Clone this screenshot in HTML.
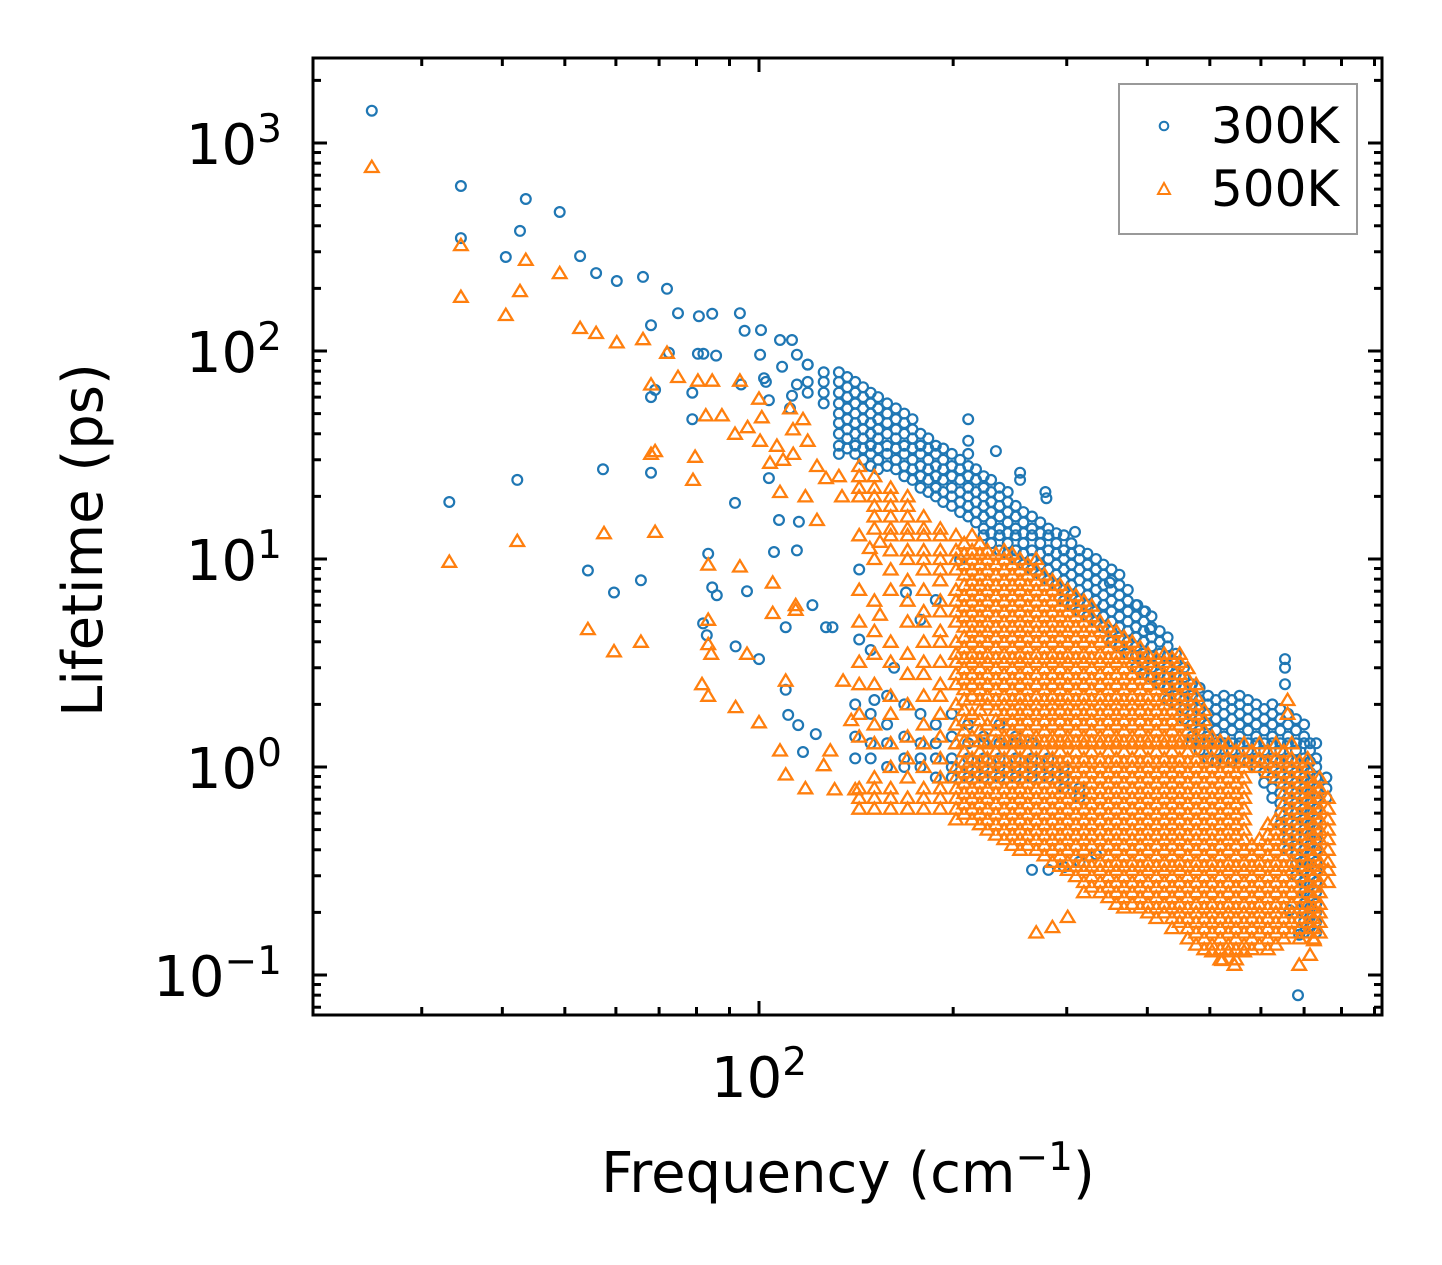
<!DOCTYPE html>
<html>
<head>
<meta charset="utf-8">
<style>
  html,body{margin:0;padding:0;background:#fff;}
  svg{display:block;}
  text{font-family:"DejaVu Sans","Liberation Sans",sans-serif;fill:#000;}
</style>
</head>
<body>
<svg id="chart" xmlns="http://www.w3.org/2000/svg" width="1442" height="1265" viewBox="0 0 1442 1265">
  <rect x="0" y="0" width="1442" height="1265" fill="#fff"/>
  <g id="marks300"></g>
  <g id="marks500"></g>
  <g id="axes"></g>
  <text x="102" y="540" font-size="56" text-anchor="middle" transform="rotate(-90 102 540)">Lifetime (ps)</text>
  <text x="848" y="1192" font-size="56" text-anchor="middle">Frequency (cm<tspan font-size="39" dy="-22">−1</tspan><tspan dy="22">)</tspan></text>
  <g id="legend">
    <rect x="1119" y="84" width="238" height="150" fill="#fff" stroke="#999" stroke-width="2"/>
    <circle cx="1164" cy="126" r="4.3" fill="none" stroke="#1f77b4" stroke-width="2"/>
    <text x="1211" y="143" font-size="50">300K</text>
    <path d="M1158,194 L1170,194 L1164,183 Z" fill="none" stroke="#ff7f0e" stroke-width="2"/>
    <text x="1211" y="206" font-size="50">500K</text>
  </g>
</svg>
<script>
// ---------- data: 300K (blue circles) ----------
const sparseFreq300 = [25.1,34.5,34.5,33.1,43.5,42.6,42.2,40.5,49.1,52.8,55.9,60.2,66.1,72.0,68.0,69,68,68,74.9,80.7,84.6,93.4,95,100.7,80.4,72.5,82,85.8,78.8,78.8,57.3,54.3,59.6,65.6,91.8,83.4,84.6,86,81.9,83,95.8,92,100,93.8,101.8,100.4,107.8,112.5,114.5,108.6,119,114.5,112.5,102.5,103.6,111.7,103.6,107.4,115.3,105.5,114.5,121,110,127,130,110,111,117,115,122.5,143,169,143,149,162,151,178,188,205,211,211,211,233,254,254,279,278,309,350,386,397,404,654,654,654,685,688,665];
const sparseTau300 = [1430,621,349,18.8,538,378,24,283,466,286,237,217,227,199,133,65,60,26,152,147,151,152,125,126,97,98,97,95,63,47,27,8.8,6.9,7.9,18.6,10.6,7.3,6.7,4.9,4.3,7.0,3.8,3.3,69,74,96,113,113,96,84,86,69,61,71,58,53,24.5,15.4,15.1,10.8,11,6.0,4.7,4.7,4.7,2.35,1.78,1.18,1.59,1.44,8.9,6.9,4.1,3.65,3.0,2.1,5.1,6.35,9.9,47,37,32,33,24,26,19.6,21,13.5,7.7,6.0,5.6,4.6,3.3,3.0,2.5,0.080,0.156,0.205];
const colFreq300 = [119,126,133,141,149,158,168,178,188,199,211,223,236,250,265,281,297,314,333,352,373,395,418,443,469,497,526,556,590,625,661,700,731,758];
const colTau300 = [
 [63,71,86],
 [56,63,71,79],
 [32,35,40,45,50,56,63,71,79],
 [1.1,1.4,2,32,35,40,45,50,56,63,71],
 [1.1,1.3,1.8,28,32,35,40,45,50,56,63],
 [1,1.3,1.6,2.2,28,32,35,40,45,50,56],
 [1,1.1,1.4,2,25,28,32,35,40,45,50],
 [1,1.1,1.3,1.8,22,25,28,32,35,40],
 [0.89,1.1,1.3,1.6,20,22,25,28,32,35],
 [0.89,1,1.1,1.4,1.8,18,20,22,25,28,32],
 [0.89,1,1.1,1.3,1.6,16,18,20,22,25,28],
 [0.89,1,1.1,1.3,1.4,13,14,16,18,20,22,25],
 [0.89,1,1.1,1.3,1.6,11,13,14,16,18,20,22],
 [0.89,1,1.1,1.3,1.4,10,11,13,14,16,18],
 [0.32,0.89,1,1.1,1.3,8.9,10,11,13,14,16],
 [0.32,0.89,1,1.1,7.9,8.9,10,11,13,14],
 [0.33,0.79,0.89,1,6.3,7.1,7.9,8.9,10,11,13],
 [0.35,0.71,0.79,5.6,6.3,7.1,7.9,8.9,10,11],
 [0.38,5,5.6,6.3,7.1,7.9,8.9,10],
 [4,4.5,5,5.6,6.3,7.1,7.9,8.9],
 [3.5,4,4.5,5,5.6,6.3,7.1],
 [2.8,3.2,3.5,4,4.5,5,5.6],
 [2.5,2.8,3.2,3.5,4,4.5],
 [2,2.2,2.5,2.8,3.2,3.5],
 [1.3,1.4,1.6,1.8,2,2.2,2.5],
 [1.1,1.3,1.4,1.6,1.8,2,2.2],
 [1.1,1.3,1.4,1.6,1.8,2,2.2],
 [1.1,1.3,1.4,1.6,1.8,2,2.2],
 [1,1.1,1.3,1.4,1.6,1.8,2],
 [0.71,0.79,0.89,1,1.1,1.3,1.4,1.6,1.8,2],
 [0.4,0.45,0.5,0.56,0.63,0.71,0.79,0.89,1,1.1,1.3,1.4,1.6,1.8],
 [0.16,0.18,0.2,0.22,0.25,0.28,0.32,0.35,0.4,0.45,0.5,0.56,0.63,0.71,0.79,0.89,1,1.1,1.3,1.4,1.6],
 [0.16,0.18,0.2,0.22,0.25,0.28,0.32,0.35,0.4,0.45,0.5,0.56,0.63,0.71,0.79,0.89,1,1.1,1.3],
 [0.71,0.79,0.89]
];
const midFreq300 = [137,145,153,163,173,183,193,205,217,229,243,257,273,289,305,323,342,362,384,406,430,456,482,511,541,573,607,643,680,715];
const midTau300 = [
 [34,38,42,47,53,60,67,75],
 [30,34,38,42,47,53,60,67],
 [27,30,34,38,42,47,53,60],
 [27,30,34,38,42,47,53],
 [24,27,30,34,38,42,47],
 [21,24,27,30,34,38],
 [18.8,21,24,27,30,34],
 [16.8,18.8,21,24,27,30],
 [15,16.8,18.8,21,24,27],
 [11.9,13.3,15,16.8,18.8,21,24],
 [10.6,11.9,13.3,15,16.8,18.8,21],
 [9.4,10.6,11.9,13.3,15,16.8],
 [8.4,9.4,10.6,11.9,13.3,15],
 [7.5,8.4,9.4,10.6,11.9,13.3],
 [6,6.7,7.5,8.4,9.4,10.6,11.9],
 [5.3,6,6.7,7.5,8.4,9.4,10.6],
 [4.7,5.3,6,6.7,7.5,8.4,9.4],
 [3.8,4.2,4.7,5.3,6,6.7,7.5,8.4],
 [3,3.4,3.8,4.2,4.7,5.3,6],
 [2.7,3,3.4,3.8,4.2,4.7,5.3],
 [2.1,2.4,2.7,3,3.4,3.8,4.2],
 [1.7,1.9,2.1,2.4,2.7,3],
 [1.2,1.3,1.5,1.7,1.9,2.1,2.4],
 [1.06,1.2,1.3,1.5,1.7,1.9,2.1],
 [1.06,1.2,1.3,1.5,1.7,1.9,2.1],
 [1.06,1.2,1.3,1.5,1.7,1.9,2.1],
 [0.84,0.94,1.06,1.2,1.3,1.5,1.7,1.9],
 [0.53,0.6,0.67,0.75,0.84,0.94,1.06,1.2,1.3,1.5,1.7,1.9],
 [0.3,0.34,0.38,0.42,0.47,0.53,0.6,0.67,0.75,0.84,0.94,1.06,1.2,1.3,1.5,1.7],
 [0.17,0.19,0.21,0.24,0.27,0.3,0.34,0.38,0.42,0.47,0.53,0.6,0.67,0.75,0.84,0.94,1.06,1.2,1.3]
];

// ---------- data: 500K (orange triangles) ----------
const sparseFreq500 = [25.1,34.5,34.5,33.1,43.5,42.6,40.5,42.2,49.1,52.8,55.9,60.2,66.1,72,68,69,68,69,57.5,54.3,59.6,65.6,74.9,80.4,84.6,93.4,87.6,82.7,79.6,79,100,101,91.8,96,100.4,106.6,111.7,112.9,117,119,104,109,113,123,107.8,118,133,134.5,123,127,83.4,83.4,83.4,84.3,93.4,105,105,95.8,81.6,83.4,92,100,114,114,110,107.8,110,118,126,129,131,139,141,135,154,148.5,154,688,546,523,715,725,660,660];
const sparseTau500 = [767,323,182,9.7,274,194,149,12.2,237,129,122,110,114,98,69,33,32,13.5,13.3,4.6,3.6,4.0,75,72,72,72,49,49,31,24,59,48,40,43,37,35,53,42,47,37,29,30,32,28,21,20,25,20,15.4,24.5,9.4,5.1,3.9,3.5,9.2,7.7,5.5,3.5,2.5,2.2,1.94,1.64,6.0,5.7,2.6,1.2,0.92,0.79,1.02,1.2,0.78,1.68,0.78,2.6,5.4,11.3,12.1,0.112,0.112,0.118,0.125,0.147,1.8,2.1];
const colFreq500 = [143,151,160,170,180,191,202,214,226,240,254,269,285,301,319,338,358,379,401,425,449,476,504,534,565,597,633,670,709,740,762];
const colTau500 = [
 [0.63,0.71,0.79,1.4,1.8,2.5,3.2,5,7.1,13,20,22,25,28],
 [0.63,0.71,0.79,0.89,1.3,1.6,2.5,3.5,4.5,6.3,10,14,16,18,20,22,25],
 [0.63,0.71,0.79,1,1.3,1.8,2.2,3.2,4,7.1,8.9,11,13,14,16,18,20,22],
 [0.63,0.71,0.89,1.1,1.4,2,2.8,3.5,5,6.3,7.9,10,11,13,14,16,18,20],
 [0.63,0.71,0.79,1,1.3,1.6,2.2,2.8,3.2,4,5,5.6,7.1,8.9,10,11,13,14,16],
 [0.63,0.71,0.79,0.89,1.1,1.4,1.8,2.2,2.5,3.2,4,4.5,5.6,6.3,7.9,8.9,10,11,13,14],
 [0.56,0.63,0.71,0.79,0.89,1,1.3,1.6,2,2.5,2.8,3.2,3.5,4,5,5.6,6.3,7.1,8.9,10,11,13],
 [0.56,0.63,0.71,0.79,0.89,1,1.1,1.4,1.8,2.2,2.5,2.8,3.2,3.5,4,4.5,5,5.6,6.3,7.1,7.9,8.9,10,11,13],
 [0.5,0.56,0.63,0.71,0.79,0.89,1,1.1,1.3,1.6,2,2.2,2.5,2.8,3.2,3.5,4,4.5,5,5.6,6.3,7.1,7.9,8.9,10,11],
 [0.45,0.5,0.56,0.63,0.71,0.79,0.89,1,1.1,1.3,1.4,1.6,1.8,2,2.2,2.5,2.8,3.2,3.5,4,4.5,5,5.6,6.3,7.1,7.9,8.9,10,11],
 [0.4,0.45,0.5,0.56,0.63,0.71,0.79,0.89,1,1.1,1.3,1.4,1.6,1.8,2,2.2,2.5,2.8,3.2,3.5,4,4.5,5,5.6,6.3,7.1,7.9,8.9,10],
 [0.16,0.4,0.45,0.5,0.56,0.63,0.71,0.79,0.89,1,1.1,1.3,1.4,1.6,1.8,2,2.2,2.5,2.8,3.2,3.5,4,4.5,5,5.6,6.3,7.1,7.9,8.9,10],
 [0.17,0.35,0.4,0.45,0.5,0.56,0.63,0.71,0.79,0.89,1,1.1,1.3,1.4,1.6,1.8,2,2.2,2.5,2.8,3.2,3.5,4,4.5,5,5.6,6.3,7.1,7.9],
 [0.19,0.32,0.35,0.4,0.45,0.5,0.56,0.63,0.71,0.79,0.89,1,1.1,1.3,1.4,1.6,1.8,2,2.2,2.5,2.8,3.2,3.5,4,4.5,5,5.6,6.3,7.1],
 [0.25,0.28,0.32,0.35,0.4,0.45,0.5,0.56,0.63,0.71,0.79,0.89,1,1.1,1.3,1.4,1.6,1.8,2,2.2,2.5,2.8,3.2,3.5,4,4.5,5,5.6,6.3],
 [0.25,0.28,0.32,0.35,0.4,0.45,0.5,0.56,0.63,0.71,0.79,0.89,1,1.1,1.3,1.4,1.6,1.8,2,2.2,2.5,2.8,3.2,3.5,4,4.5,5],
 [0.22,0.25,0.28,0.32,0.35,0.4,0.45,0.5,0.56,0.63,0.71,0.79,0.89,1,1.1,1.3,1.4,1.6,1.8,2,2.2,2.5,2.8,3.2,3.5,4,4.5],
 [0.22,0.25,0.28,0.32,0.35,0.4,0.45,0.5,0.56,0.63,0.71,0.79,0.89,1,1.1,1.3,1.4,1.6,1.8,2,2.2,2.5,2.8,3.2,3.5,4],
 [0.2,0.22,0.25,0.28,0.32,0.35,0.4,0.45,0.5,0.56,0.63,0.71,0.79,0.89,1,1.1,1.3,1.4,1.6,1.8,2,2.2,2.5,2.8,3.2,3.5],
 [0.2,0.22,0.25,0.28,0.32,0.35,0.4,0.45,0.5,0.56,0.63,0.71,0.79,0.89,1,1.1,1.3,1.4,1.6,1.8,2,2.2,2.5,2.8,3.2,3.5],
 [0.18,0.2,0.22,0.25,0.28,0.32,0.35,0.4,0.45,0.5,0.56,0.63,0.71,0.79,0.89,1,1.1,1.3,1.4,1.6,1.8,2,2.2,2.5,2.8,3.2,3.5],
 [0.14,0.16,0.18,0.2,0.22,0.25,0.28,0.32,0.35,0.4,0.45,0.5,0.56,0.63,0.71,0.79,0.89,1,1.1,1.3,1.4,1.6,1.8,2,2.2,2.5],
 [0.13,0.14,0.16,0.18,0.2,0.22,0.25,0.28,0.32,0.35,0.4,0.45,0.5,0.56,0.63,0.71,0.79,0.89,1,1.1,1.3,1.4],
 [0.13,0.14,0.16,0.18,0.2,0.22,0.25,0.28,0.32,0.35,0.4,0.45,0.5,0.56,0.63,0.71,0.79,0.89,1,1.1,1.3],
 [0.13,0.14,0.16,0.18,0.2,0.22,0.25,0.28,0.32,0.35,0.4,0.45,0.5,0.56,0.63,0.71,0.79,0.89,1,1.1,1.3],
 [0.14,0.16,0.18,0.2,0.22,0.25,0.28,0.32,0.35,0.4,0.45,1,1.1,1.3],
 [0.14,0.16,0.18,0.2,0.22,0.25,0.28,0.32,0.35,0.4,0.45,0.5,0.56,0.89,1,1.1,1.3],
 [0.16,0.18,0.2,0.22,0.25,0.28,0.32,0.35,0.4,0.45,0.5,0.56,0.63,0.71,0.79,0.89,1,1.1,1.3],
 [0.16,0.18,0.2,0.22,0.25,0.28,0.32,0.35,0.4,0.45,0.5,0.56,0.63,0.71,0.79,0.89,1,1.1],
 [0.16,0.18,0.2,0.22,0.25,0.28,0.32,0.35,0.4,0.45,0.5,0.56,0.63,0.71,0.79,0.89],
 [0.28,0.32,0.35,0.4,0.45,0.5,0.56,0.63,0.71]
];
const midFreq500 = [208,220,233,247,261,277,293,310,328,348,368,390,413,437,462,490,519,549,581,615,651,689,724];
const midTau500 = [
 [0.596,0.668,0.75,0.841,0.944,1.06,1.19,1.33,1.5,1.68,1.88,2.11,2.37,2.66,2.99,3.35,3.76,4.22,4.73,5.31,5.96,6.68,7.5,8.41,9.44,10.6,11.9],
 [0.531,0.596,0.668,0.75,0.841,0.944,1.06,1.19,1.33,1.5,1.68,1.88,2.11,2.37,2.66,2.99,3.35,3.76,4.22,4.73,5.31,5.96,6.68,7.5,8.41,9.44,10.6,11.9],
 [0.473,0.531,0.596,0.668,0.75,0.841,0.944,1.06,1.19,1.33,1.5,1.68,1.88,2.11,2.37,2.66,2.99,3.35,3.76,4.22,4.73,5.31,5.96,6.68,7.5,8.41,9.44,10.6],
 [0.422,0.473,0.531,0.596,0.668,0.75,0.841,0.944,1.06,1.19,1.33,1.5,1.68,1.88,2.11,2.37,2.66,2.99,3.35,3.76,4.22,4.73,5.31,5.96,6.68,7.5,8.41,9.44,10.6],
 [0.422,0.473,0.531,0.596,0.668,0.75,0.841,0.944,1.06,1.19,1.33,1.5,1.68,1.88,2.11,2.37,2.66,2.99,3.35,3.76,4.22,4.73,5.31,5.96,6.68,7.5,8.41,9.44],
 [0.376,0.422,0.473,0.531,0.596,0.668,0.75,0.841,0.944,1.06,1.19,1.33,1.5,1.68,1.88,2.11,2.37,2.66,2.99,3.35,3.76,4.22,4.73,5.31,5.96,6.68,7.5,8.41],
 [0.335,0.376,0.422,0.473,0.531,0.596,0.668,0.75,0.841,0.944,1.06,1.19,1.33,1.5,1.68,1.88,2.11,2.37,2.66,2.99,3.35,3.76,4.22,4.73,5.31,5.96,6.68,7.5],
 [0.299,0.335,0.376,0.422,0.473,0.531,0.596,0.668,0.75,0.841,0.944,1.06,1.19,1.33,1.5,1.68,1.88,2.11,2.37,2.66,2.99,3.35,3.76,4.22,4.73,5.31,5.96,6.68],
 [0.266,0.299,0.335,0.376,0.422,0.473,0.531,0.596,0.668,0.75,0.841,0.944,1.06,1.19,1.33,1.5,1.68,1.88,2.11,2.37,2.66,2.99,3.35,3.76,4.22,4.73,5.31,5.96],
 [0.237,0.266,0.299,0.335,0.376,0.422,0.473,0.531,0.596,0.668,0.75,0.841,0.944,1.06,1.19,1.33,1.5,1.68,1.88,2.11,2.37,2.66,2.99,3.35,3.76,4.22,4.73],
 [0.211,0.237,0.266,0.299,0.335,0.376,0.422,0.473,0.531,0.596,0.668,0.75,0.841,0.944,1.06,1.19,1.33,1.5,1.68,1.88,2.11,2.37,2.66,2.99,3.35,3.76,4.22],
 [0.211,0.237,0.266,0.299,0.335,0.376,0.422,0.473,0.531,0.596,0.668,0.75,0.841,0.944,1.06,1.19,1.33,1.5,1.68,1.88,2.11,2.37,2.66,2.99,3.35,3.76],
 [0.188,0.211,0.237,0.266,0.299,0.335,0.376,0.422,0.473,0.531,0.596,0.668,0.75,0.841,0.944,1.06,1.19,1.33,1.5,1.68,1.88,2.11,2.37,2.66,2.99,3.35],
 [0.168,0.188,0.211,0.237,0.266,0.299,0.335,0.376,0.422,0.473,0.531,0.596,0.668,0.75,0.841,0.944,1.06,1.19,1.33,1.5,1.68,1.88,2.11,2.37,2.66,2.99,3.35],
 [0.15,0.168,0.188,0.211,0.237,0.266,0.299,0.335,0.376,0.422,0.473,0.531,0.596,0.668,0.75,0.841,0.944,1.06,1.19,1.33,1.5,1.68,1.88,2.11,2.37,2.66,2.99],
 [0.133,0.15,0.168,0.188,0.211,0.237,0.266,0.299,0.335,0.376,0.422,0.473,0.531,0.596,0.668,0.75,0.841,0.944,1.06,1.19,1.33,1.5,1.68,1.88],
 [0.119,0.133,0.15,0.168,0.188,0.211,0.237,0.266,0.299,0.335,0.376,0.422,0.473,0.531,0.596,0.668,0.75,0.841,0.944,1.06,1.19,1.33],
 [0.119,0.133,0.15,0.168,0.188,0.211,0.237,0.266,0.299,0.335,0.376,0.422,0.473,0.531,0.596,0.668,0.75,0.841,0.944,1.06,1.19],
 [0.133,0.15,0.168,0.188,0.211,0.237,0.266,0.299,0.335,0.376,0.422,1.06,1.19],
 [0.133,0.15,0.168,0.188,0.211,0.237,0.266,0.299,0.335,0.376,0.422,0.473,0.531,0.944,1.06,1.19],
 [0.15,0.168,0.188,0.211,0.237,0.266,0.299,0.335,0.376,0.422,0.473,0.531,0.596,0.668,0.75,0.841,0.944,1.06,1.19],
 [0.15,0.168,0.188,0.211,0.237,0.266,0.299,0.335,0.376,0.422,0.473,0.531,0.596,0.668,0.75,0.841,0.944,1.06],
 [0.15,0.168,0.188,0.211,0.237,0.266,0.299,0.335,0.376,0.422,0.473,0.531,0.596,0.668,0.75,0.841]
];

// ---------- axis config ----------
const yDecades = [-1,0,1,2,3];
const xMajor = [100];
const xMinor = [30,40,50,60,70,80,90,200,300,400,500,600,700,800,900];

const PL=313, PR=1382, PT=58, PB=1015;
function xS(f){ return 759 + 645*Math.log10(f/100); }
function yS(t){ return 767 - 208*Math.log10(t); }
const NS='http://www.w3.org/2000/svg';
function mk(tag, attrs, parent){
  const e=document.createElementNS(NS,tag);
  for(const k in attrs) e.setAttribute(k,attrs[k]);
  parent.appendChild(e); return e;
}

// ---------- marks ----------
const g300=document.getElementById('marks300');
const g500=document.getElementById('marks500');
function circ(f,t){
  const c=mk('circle',{cx:xS(f).toFixed(1),cy:yS(t).toFixed(1),r:4.9,fill:'none',stroke:'#1f77b4','stroke-width':2.2},g300);
  
  
}
function tri(f,t){
  const x=xS(f), y=yS(t);
  const p=mk('path',{d:`M${(x-6.8).toFixed(1)},${(y+5).toFixed(1)} L${(x+6.8).toFixed(1)},${(y+5).toFixed(1)} L${x.toFixed(1)},${(y-6.3).toFixed(1)} Z`,fill:'none',stroke:'#ff7f0e','stroke-width':2.3,'stroke-linejoin':'miter'},g500);
  
  
}
colFreq300.forEach((f,i)=>colTau300[i].forEach(t=>circ(f,t)));
midFreq300.forEach((f,i)=>midTau300[i].forEach(t=>circ(f,t)));
sparseFreq300.forEach((f,i)=>circ(f,sparseTau300[i]));
colFreq500.forEach((f,i)=>colTau500[i].forEach(t=>tri(f,t)));
midFreq500.forEach((f,i)=>midTau500[i].forEach(t=>tri(f,t)));
sparseFreq500.forEach((f,i)=>tri(f,sparseTau500[i]));

// ---------- axes ----------
const ax=document.getElementById('axes');
const frame=mk('rect',{x:PL,y:PT,width:PR-PL,height:PB-PT,fill:'none',stroke:'#000','stroke-width':3},ax);


function tick(x1,y1,x2,y2,name){
  const l=mk('line',{x1,y1,x2,y2,stroke:'#000','stroke-width':3},ax);
  
  
}
for(let d=-2; d<=3; d++){
  for(let m=1;m<=9;m++){
    const v=m*Math.pow(10,d);
    const y=yS(v);
    if(y<PT||y>PB) continue;
    const len = m===1?14:8;
    tick(PL,y,PL+len,y,'y-tick');
    tick(PR,y,PR-len,y,'y-tick-right');
  }
}
yDecades.forEach(d=>{
  const y=yS(Math.pow(10,d));
  const t=mk('text',{x:282,y:(y+21).toFixed(1),'font-size':56,'text-anchor':'end'},ax);
  
  
  t.appendChild(document.createTextNode('10'));
  const s=mk('tspan',{'font-size':39,dy:-22},t);
  s.textContent = d<0 ? '−'+(-d) : String(d);
});
xMajor.forEach(v=>{
  const x=xS(v);
  tick(x,PB,x,PB-14,'x-tick');
  tick(x,PT,x,PT+14,'x-tick-top');
  const t=mk('text',{x:x.toFixed(1),y:1097,'font-size':56,'text-anchor':'middle'},ax);
  
  
  t.appendChild(document.createTextNode('10'));
  const s=mk('tspan',{'font-size':39,dy:-22},t);
  s.textContent=String(Math.round(Math.log10(v)));
});
xMinor.forEach(v=>{
  const x=xS(v);
  tick(x,PB,x,PB-8,'x-minor-tick');
  tick(x,PT,x,PT+8,'x-minor-tick-top');
});
</script>
</body>
</html>
